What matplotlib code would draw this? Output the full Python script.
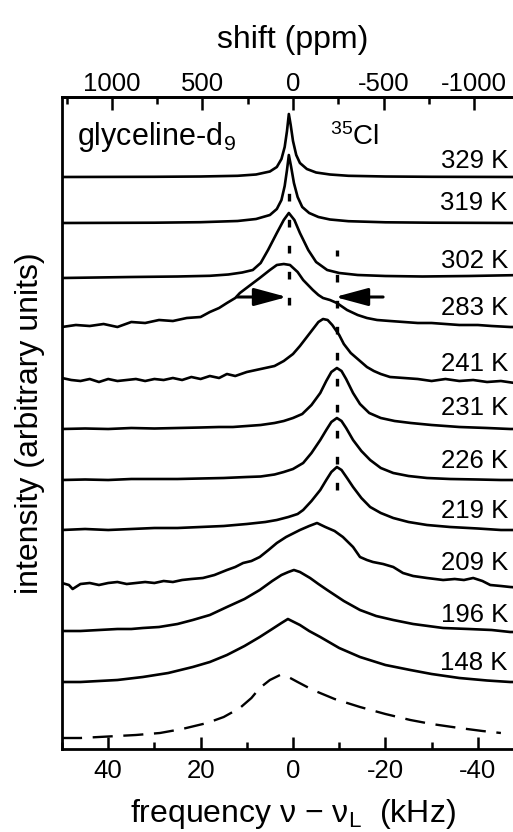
import numpy as np
import matplotlib.pyplot as plt
from matplotlib.ticker import MultipleLocator

plt.rcParams['font.family'] = ['Liberation Sans', 'DejaVu Sans']
plt.rcParams['mathtext.fontset'] = 'custom'
plt.rcParams['mathtext.rm'] = 'Liberation Sans'
plt.rcParams['mathtext.default'] = 'regular'

# 35Cl spectra: frequency (kHz) and intensity above each baseline
temps = ['329 K', '319 K', '302 K', '283 K', '241 K', '231 K',
         '226 K', '219 K', '209 K', '196 K', '148 K']

k329 = [50, 30, 20, 12, 8, 5, 3.5, 2.5, 1.8, 1.3, 0.9, 0.5, 0, -0.7, -1.5, -3, -5, -8, -12, -20, -30, -50]
h329 = [0, 0.02, 0.05, 0.12, 0.25, 0.55, 1.0, 1.8, 3.0, 4.6, 6.3, 5.2, 3.6, 2.2, 1.4, 0.8, 0.45, 0.25, 0.12, 0.05, 0.02, 0]

k319 = [50, 30, 20, 12, 8, 5, 3.5, 2.5, 1.8, 1.3, 0.9, 0.4, -0.2, -1, -2, -3.5, -5.5, -8, -12, -20, -30, -50]
h319 = [0, 0.03, 0.08, 0.2, 0.4, 0.8, 1.4, 2.3, 3.7, 5.3, 6.8, 5.6, 4.0, 2.6, 1.6, 1.0, 0.6, 0.35, 0.18, 0.07, 0.03, 0]

k302 = [50, 35, 25, 18, 14, 11, 8.7, 7, 5.4, 3.5, 2, 0.9, -0.3, -1.5, -3.3, -5, -7.4, -10, -14, -20, -28, -38, -50]
h302 = [-0.1, 0, 0.05, 0.12, 0.25, 0.45, 0.7, 1.4, 2.7, 4.4, 5.7, 6.4, 5.7, 4.4, 2.7, 1.5, 0.7, 0.4, 0.2, 0.1, 0.05, 0.1, 0.2]

k283 = [50, 47, 44, 41, 38, 35, 32, 29, 26, 23, 20, 18, 16, 14.3, 12.5, 11.5, 9.5, 7.2, 5, 3.5,
        2, 0.65, -1, -2.2, -4.3, -5.5, -6.5, -8, -9.5, -11.7, -14, -16, -18.2, -21, -24, -27, -30,
        -33, -36, -40, -43, -47, -50]
h283 = [-0.2, 0.0, -0.1, 0.1, -0.2, 0.3, 0.2, 0.5, 0.4, 0.7, 0.8, 1.3, 1.7, 2.2, 2.7, 3.2, 3.9, 4.7, 5.5, 6.0,
        6.1, 6.0, 5.3, 4.5, 3.5, 3.0, 2.7, 2.5, 2.2, 1.5, 1.0, 0.7, 0.5, 0.4, 0.3, 0.2, 0.2,
        0.1, 0.0, 0.0, -0.1, -0.2, -0.2]

k241 = [50, 48, 46, 44, 42, 40, 38, 36, 34, 32, 30, 28, 26, 24, 22, 20, 18, 16, 14.3, 12.5,
        10, 8, 6, 4, 2, 0, -1.5, -3, -4.5, -5.5, -6.5, -7.5, -8.5, -10, -11, -12.5, -14.5, -16,
        -17.5, -19, -21, -24, -27, -30, -33, -36, -39, -42, -45, -48, -50]
h241 = [0.2, 0.0, -0.1, 0.1, -0.2, 0.1, -0.1, 0.0, 0.1, -0.1, 0.1, 0.0, 0.2, 0.0, 0.3, 0.1, 0.4, 0.2, 0.6, 0.4,
        0.8, 1.0, 1.2, 1.4, 1.9, 2.6, 3.4, 4.3, 5.2, 5.8, 6.1, 6.0, 5.5, 4.5, 3.6, 2.7, 1.9, 1.3,
        0.9, 0.6, 0.3, 0.2, 0.1, -0.1, 0.1, -0.1, 0.0, -0.2, -0.1, -0.3, -0.1]

k231 = [50, 45, 40, 35, 30, 25, 20, 16, 13, 10, 7, 4, 2, 0, -2, -4, -5.9, -7.2, -8.3, -9.5,
        -10.5, -11.5, -13, -14.5, -16.5, -19, -22, -25.5, -30, -36, -42, -47, -50]
h231 = [0, 0.05, 0.0, 0.1, 0.05, 0.1, 0.15, 0.2, 0.2, 0.3, 0.4, 0.6, 0.8, 1.1, 1.5, 2.4, 3.6, 4.8, 5.7, 6.1,
        5.8, 5.0, 3.6, 2.5, 1.6, 1.1, 0.8, 0.6, 0.4, 0.2, 0.1, 0.0, 0.0]

k226 = [50, 45, 40, 35, 30, 25, 20, 15, 10, 7, 4, 2, 0, -2.2, -4, -5.9, -7.2, -8.3, -9.5, -10.5,
        -11.5, -13, -14.8, -16.7, -19, -21.7, -25, -29, -34, -40, -45, -50]
h226 = [0, 0.05, 0.0, 0.1, 0.1, 0.1, 0.15, 0.2, 0.3, 0.35, 0.55, 0.8, 1.1, 1.7, 2.7, 4.0, 5.0, 5.8, 6.2, 5.9,
        5.2, 4.0, 2.9, 2.0, 1.2, 0.7, 0.4, 0.2, 0.1, 0.05, 0.0, 0.0]

k219 = [50, 45, 40, 35, 30, 25, 20, 15, 10, 6, 3.5, 1, -1, -2.2, -4, -5.9, -7.2, -8.3, -9.5, -10.5,
        -11.7, -13, -14.8, -16.7, -19, -21.7, -25, -29, -34, -40, -45, -50]
h219 = [0, 0.1, 0.0, 0.1, 0.2, 0.2, 0.3, 0.4, 0.6, 0.8, 1.0, 1.3, 1.6, 2.0, 2.9, 4.0, 5.0, 5.8, 6.3, 6.0,
        5.2, 4.3, 3.2, 2.3, 1.7, 1.2, 0.8, 0.5, 0.3, 0.15, 0.0, 0.0]

k209 = [50, 48.5, 47.7, 46, 44, 42, 40, 38, 36, 34, 32, 30, 28, 26, 24, 22, 19.5, 17, 14.3, 12.5,
        10.8, 9, 7.2, 5.3, 3.5, 1.5, -1.5, -3.5, -5.2, -7, -9, -10.8, -13, -14.5, -16, -17.3,
        -19.5, -21.7, -23.8, -26, -29, -32.5, -35, -37, -39, -41, -42.7, -45, -47, -50]
h209 = [0.4, 0.2, -0.2, 0.3, 0.4, 0.2, 0.4, 0.5, 0.3, 0.4, 0.5, 0.4, 0.6, 0.5, 0.7, 0.8, 0.9, 1.2, 1.7, 2.0,
        2.4, 2.6, 3.0, 3.7, 4.4, 5.0, 5.7, 6.1, 6.4, 6.0, 5.6, 5.0, 4.0, 3.0, 2.7, 2.5,
        2.3, 2.0, 1.4, 1.1, 0.9, 0.7, 0.8, 0.7, 0.9, 0.6, 0.2, 0.1, 0.0, -0.1]

k196 = [50, 46, 42, 38, 35, 32.5, 29, 25, 21.7, 18, 14.3, 10.5, 7.2, 4.5, 2.5, 1, -0.2, -1.5, -3.7, -5.5,
        -7.4, -11, -14.5, -18, -21.7, -26, -32.5, -38, -43, -47, -50]
h196 = [0.0, 0.0, 0.1, 0.2, 0.2, 0.3, 0.4, 0.7, 1.1, 1.6, 2.4, 3.2, 4.1, 5.0, 5.6, 5.9, 6.1, 5.9, 5.3, 4.7,
        4.1, 3.0, 2.1, 1.5, 1.1, 0.7, 0.3, 0.2, 0.1, -0.1, -0.1]

k148 = [50, 46, 42, 38, 32.5, 27, 21.7, 18, 14.3, 10.5, 7.2, 4.5, 2.5, 1.1, -0.2, -1.5, -3.5, -5.9, -10, -14.5,
        -20, -25.4, -30, -36, -42, -47, -50]
h148 = [0.0, 0.0, 0.1, 0.2, 0.5, 0.9, 1.5, 2.0, 2.7, 3.6, 4.5, 5.3, 5.9, 6.3, 6.0, 5.7, 5.1, 4.5, 3.4, 2.5,
        1.7, 1.2, 0.8, 0.4, 0.15, 0.0, 0.0]

# dashed curve at the bottom
k_fit = [50, 46, 42, 38, 34, 28.8, 24, 18.6, 15, 11.5, 9, 7.2, 5, 2.8, 1, -1, -4.3, -9, -14.5, -20,
         -25.4, -30, -36, -41, -45]
h_fit = [0.0, 0.0, 0.1, 0.2, 0.3, 0.5, 0.9, 1.5, 2.1, 3.0, 4.0, 5.0, 5.8, 6.3, 6.1, 5.6, 4.8, 3.9, 3.1, 2.4,
         1.8, 1.4, 1.0, 0.7, 0.5]

spec_k = [k329, k319, k302, k283, k241, k231, k226, k219, k209, k196, k148]
spec_h = [h329, h319, h302, h283, h241, h231, h226, h219, h209, h196, h148]

# vertical stacking (baselines) and label heights
offsets = [57.2, 52.6, 47.2, 42.4, 36.9, 32.0, 26.9, 21.9, 16.2, 11.8, 6.7]
fit_offset = 1.1
label_y = [58.1, 53.9, 48.1, 43.4, 37.8, 33.4, 28.1, 23.1, 17.9, 12.7, 7.9]

# dotted peak-position guides and arrows
guide_x = [0.9, -9.5]
guide_top = [57.2, 49.9]
guide_bot = [44.4, 25.9]
arrow_y = 45.2

larmor = 39.2  # MHz

fig = plt.figure(figsize=(5.13, 8.32), dpi=100)
ax = fig.add_axes([62 / 513, 1 - 749 / 832, 462 / 513, 652 / 832])

for k, h, off in zip(spec_k, spec_h, offsets):
    ax.plot(k, off + np.array(h), color='k', lw=1.9, solid_joinstyle='round')
ax.plot(k_fit, fit_offset + np.array(h_fit), color='k', lw=1.7, ls=(0, (8.5, 4.5)))

for gx, gt, gb in zip(guide_x, guide_top, guide_bot):
    ax.plot([gx, gx], [gb, gt], color='k', lw=2.4, ls=(0, (2.3, 5.5)),
            solid_capstyle='butt', dash_capstyle='butt')

arrow_kw = dict(arrowstyle='-|>,head_length=1.0,head_width=0.27', mutation_scale=20,
                lw=2.2, color='k', shrinkA=0, shrinkB=0)
ax.annotate('', xy=(1.3, arrow_y), xytext=(12.1, arrow_y), arrowprops=arrow_kw)
ax.annotate('', xy=(-9.1, arrow_y), xytext=(-19.5, arrow_y), arrowprops=arrow_kw)

for t, ly in zip(temps, label_y):
    ax.text(-46.5, ly, t, ha='right', va='baseline', fontsize=18.5)

ax.text(46.7, 60.4, 'glyceline-d$_9$', fontsize=22, va='baseline')
ax.text(-8.0, 60.4, '$^{35}$Cl', fontsize=20, va='baseline')

ax.set_xlim(50, -50)
ax.set_ylim(0, 65.2)
ax.set_yticks([])
ax.set_xticks([40, 20, 0, -20, -40])
ax.set_xticklabels(['40', '20', '0', '-20', '-40'])
ax.xaxis.set_minor_locator(MultipleLocator(10))
ax.tick_params(axis='x', which='major', direction='in', length=9, width=1.8,
               labelsize=18.5, pad=7, top=False)
ax.tick_params(axis='x', which='minor', direction='in', length=5, width=1.8, top=False)
for s in ax.spines.values():
    s.set_linewidth(2)

ax.set_xlabel('frequency ν − ν$_L$  (kHz)', fontsize=23, labelpad=10)
ax.set_ylabel('intensity (arbitrary units)', fontsize=23, labelpad=12)

sec = ax.secondary_xaxis('top', functions=(lambda f: f * 1000 / larmor,
                                            lambda p: p * larmor / 1000))
sec.set_xticks([1000, 500, 0, -500, -1000])
sec.set_xticklabels(['1000', '500', '0', '-500', '-1000'])
sec.xaxis.set_minor_locator(MultipleLocator(250))
sec.tick_params(which='major', direction='in', length=9, width=1.8, labelsize=18.5, pad=1)
sec.tick_params(which='minor', direction='in', length=5, width=1.8)
sec.spines['top'].set_linewidth(2)
sec.set_xlabel('shift (ppm)', fontsize=23, labelpad=17)

fig.savefig('out.png', dpi=100)
